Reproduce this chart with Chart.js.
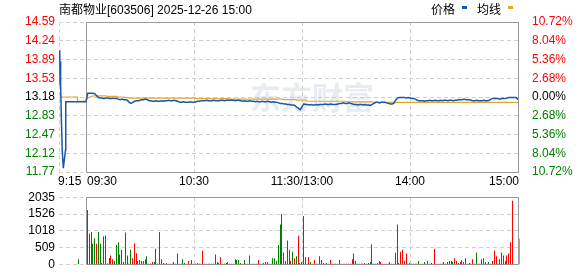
<!DOCTYPE html>
<html>
<head>
<meta charset="utf-8">
<script src="https://cdn.jsdelivr.net/npm/chart.js@4.4.1/dist/chart.umd.min.js"></script>
<style>
    html, body { margin: 0; padding: 0; background: #fff; }
    #wrap { position: relative; width: 578px; height: 276px; overflow: hidden;
        font-family: Arial, "Liberation Sans", sans-serif; font-size: 12px; color: #000; }
    canvas { position: absolute; left: 0; }
    #priceChart { top: 0; }
    #volChart { top: 186px; }
    .cjk { font-family: "Noto Sans CJK SC", sans-serif; }
    .title { position: absolute; left: 59px; top: 2px; line-height: 14px; white-space: nowrap; }
    .lg { position: absolute; top: 2px; line-height: 14px; white-space: nowrap; }
    .mark { position: absolute; top: 6px; width: 5px; height: 3px; }
</style>
</head>
<body>
<div id="wrap">
    <canvas id="priceChart" width="578" height="190"></canvas>
    <canvas id="volChart" width="578" height="90"></canvas>
    <div class="title"><span class="cjk">南都物业</span>[603506] 2025-12-26 15:00</div>
    <div class="lg cjk" style="left:431px">价格</div>
    <div class="mark" style="left:462px;background:#1b57a6"></div>
    <div class="lg cjk" style="left:477px">均线</div>
    <div class="mark" style="left:508px;background:#e3a631"></div>
</div>
<script>
// previous close, and the axis labels as they appear on the picture
const prevClose = 13.18;
const priceTicks = [11.77, 12.12, 12.47, 12.83, 13.18, 13.53, 13.89, 14.24, 14.59];
const pctTicks = ['10.72%', '8.04%', '5.36%', '2.68%', '0.00%', '2.68%', '5.36%', '8.04%', '10.72%'];
const volTicks = [0, 509, 1018, 1526, 2035];
// minutes from 09:30 (lunch break removed), 9:15 auction sits at -15
const timeTicks = [-15, 0, 60, 120, 180, 240];
const timeLabels = ['9:15', '09:30', '10:30', '11:30/13:00', '14:00', '15:00'];

// call auction 9:15-9:25 (fractional minutes)
const preTimes = [-14.6, -14.4, -14.2, -14.0, -13.7, -13.2, -12.6, -11.4, -11.25, 0];
const prePrice = [14.06, 13.41, 13.85, 13.40, 12.80, 12.18, 11.84, 12.18, 13.09, 13.09];
const preAvgTimes = [-14.6, -4.8, -4.7, 0];
const preAvg = [13.18, 13.18, 13.10, 13.10];
const preVolTimes = [-5];
const preVol = [170];

// one value per minute, 09:30 .. 15:00 (241 points)
const price = [
    13.10, 13.25, 13.25, 13.25, 13.25, 13.24, 13.20, 13.17, 13.16, 13.16,
    13.15, 13.16, 13.16, 13.15, 13.15, 13.16, 13.15, 13.15, 13.14, 13.13,
    13.14, 13.13, 13.13, 13.12, 13.08, 13.06, 13.08, 13.10, 13.11, 13.11,
    13.12, 13.13, 13.13, 13.14, 13.13, 13.11, 13.11, 13.10, 13.10, 13.11,
    13.10, 13.10, 13.11, 13.10, 13.11, 13.11, 13.12, 13.11, 13.11, 13.12,
    13.11, 13.10, 13.08, 13.08, 13.09, 13.08, 13.08, 13.08, 13.09, 13.08,
    13.08, 13.09, 13.10, 13.10, 13.11, 13.11, 13.11, 13.12, 13.11, 13.11,
    13.11, 13.12, 13.11, 13.11, 13.11, 13.12, 13.12, 13.11, 13.12, 13.12,
    13.12, 13.12, 13.12, 13.11, 13.12, 13.12, 13.11, 13.10, 13.11, 13.10,
    13.10, 13.11, 13.10, 13.10, 13.09, 13.10, 13.09, 13.09, 13.10, 13.09,
    13.09, 13.10, 13.09, 13.08, 13.09, 13.08, 13.08, 13.07, 13.06, 13.06,
    13.05, 13.05, 13.04, 13.04, 13.03, 13.03, 13.02, 12.99, 12.97, 12.94,
    13.00, 13.05, 13.04, 13.04, 13.03, 13.04, 13.03, 13.03, 13.04, 13.03,
    13.04, 13.04, 13.04, 13.05, 13.04, 13.04, 13.05, 13.04, 13.04, 13.04,
    13.05, 13.06, 13.06, 13.07, 13.06, 13.06, 13.07, 13.06, 13.05, 13.04,
    13.04, 13.03, 13.04, 13.04, 13.03, 13.04, 13.03, 13.03, 13.02, 13.04,
    13.06, 13.08, 13.08, 13.07, 13.08, 13.08, 13.08, 13.07, 13.06, 13.05,
    13.05, 13.06, 13.12, 13.16, 13.17, 13.17, 13.17, 13.17, 13.16, 13.17,
    13.16, 13.15, 13.15, 13.14, 13.12, 13.11, 13.11, 13.11, 13.10, 13.11,
    13.11, 13.12, 13.11, 13.11, 13.12, 13.11, 13.11, 13.12, 13.11, 13.12,
    13.12, 13.11, 13.12, 13.12, 13.11, 13.12, 13.12, 13.13, 13.13, 13.13,
    13.14, 13.13, 13.13, 13.13, 13.12, 13.11, 13.11, 13.12, 13.11, 13.11,
    13.11, 13.12, 13.11, 13.11, 13.12, 13.14, 13.15, 13.15, 13.15, 13.15,
    13.14, 13.15, 13.15, 13.15, 13.16, 13.17, 13.17, 13.17, 13.17, 13.17,
    13.13
];
const avgPrice = [
    13.12, 13.16, 13.18, 13.19, 13.20, 13.20, 13.20, 13.20, 13.20, 13.20,
    13.20, 13.20, 13.19, 13.19, 13.19, 13.19, 13.19, 13.19, 13.18, 13.18,
    13.18, 13.18, 13.17, 13.17, 13.16, 13.16, 13.16, 13.16, 13.16, 13.16,
    13.16, 13.16, 13.16, 13.16, 13.16, 13.16, 13.16, 13.16, 13.16, 13.16,
    13.16, 13.16, 13.16, 13.16, 13.16, 13.16, 13.16, 13.16, 13.16, 13.16,
    13.16, 13.16, 13.16, 13.16, 13.16, 13.16, 13.16, 13.16, 13.16, 13.16,
    13.16, 13.15, 13.15, 13.15, 13.15, 13.15, 13.15, 13.15, 13.15, 13.15,
    13.15, 13.15, 13.15, 13.15, 13.15, 13.15, 13.15, 13.15, 13.15, 13.15,
    13.14, 13.14, 13.14, 13.14, 13.14, 13.14, 13.14, 13.14, 13.14, 13.14,
    13.14, 13.14, 13.14, 13.14, 13.14, 13.14, 13.14, 13.14, 13.14, 13.14,
    13.14, 13.14, 13.14, 13.14, 13.14, 13.14, 13.14, 13.14, 13.14, 13.14,
    13.13, 13.13, 13.13, 13.13, 13.13, 13.13, 13.13, 13.12, 13.12, 13.12,
    13.12, 13.12, 13.12, 13.10, 13.10, 13.10, 13.10, 13.10, 13.10, 13.10,
    13.10, 13.10, 13.10, 13.10, 13.10, 13.10, 13.10, 13.10, 13.10, 13.10,
    13.10, 13.10, 13.10, 13.10, 13.10, 13.09, 13.09, 13.09, 13.09, 13.09,
    13.09, 13.09, 13.09, 13.09, 13.09, 13.09, 13.09, 13.09, 13.09, 13.09,
    13.08, 13.08, 13.08, 13.08, 13.08, 13.08, 13.08, 13.08, 13.08, 13.08,
    13.08, 13.08, 13.08, 13.08, 13.08, 13.08, 13.08, 13.08, 13.08, 13.08,
    13.08, 13.08, 13.08, 13.08, 13.08, 13.08, 13.08, 13.08, 13.08, 13.08,
    13.08, 13.08, 13.08, 13.08, 13.08, 13.08, 13.08, 13.08, 13.08, 13.08,
    13.08, 13.08, 13.08, 13.08, 13.08, 13.08, 13.08, 13.08, 13.08, 13.08,
    13.08, 13.08, 13.08, 13.08, 13.08, 13.08, 13.08, 13.08, 13.08, 13.08,
    13.08, 13.08, 13.08, 13.08, 13.08, 13.08, 13.08, 13.08, 13.08, 13.08,
    13.08, 13.08, 13.08, 13.08, 13.08, 13.08, 13.08, 13.08, 13.08, 13.08,
    13.08
];
// volume per minute (lots), r = up tick, g = down tick
const volume = [
    1650, 942, 989, 631, 800, 631, 989, 631, 57, 857,
    885, 47, 207, 283, 170, 113, 593, 678, 311, 452,
    85, 970, 283, 28, 452, 198, 650, 349, 113, 141,
    113, 113, 170, 254, 28, 38, 85, 85, 480, 38,
    989, 170, 57, 28, 57, 28, 28, 28, 85, 28,
    339, 28, 28, 170, 57, 28, 113, 28, 141, 28,
    28, 57, 28, 28, 424, 28, 28, 28, 28, 28,
    28, 311, 85, 57, 226, 28, 28, 57, 85, 28,
    28, 28, 170, 141, 141, 57, 28, 141, 28, 28,
    283, 28, 28, 28, 28, 141, 28, 28, 57, 85,
    85, 28, 28, 198, 198, 113, 593, 1215, 1526, 367,
    113, 735, 452, 113, 396, 198, 254, 876, 57, 85,
    1470, 226, 28, 226, 85, 28, 141, 28, 28, 254,
    141, 57, 28, 57, 28, 141, 28, 28, 28, 28,
    141, 28, 28, 28, 28, 28, 28, 170, 339, 113,
    28, 28, 28, 28, 57, 28, 57, 85, 622, 28,
    28, 57, 113, 85, 28, 28, 28, 28, 85, 28,
    28, 367, 1215, 57, 396, 452, 113, 339, 28, 57,
    28, 28, 28, 28, 113, 28, 28, 85, 28, 113,
    28, 57, 28, 480, 28, 28, 28, 28, 85, 28,
    85, 113, 113, 85, 198, 113, 57, 85, 141, 85,
    198, 28, 57, 28, 170, 28, 367, 28, 28, 170,
    198, 85, 28, 85, 28, 113, 424, 254, 28, 170,
    367, 283, 113, 283, 339, 678, 1931, 0, 0, 0,
    791
];
const volSide = (
    'rrrggrggrr' + 'gggrrgggrg' + 'ggrggrrrrr' + 'rrrggrrgrr' + 'grrrrgrrgg' +
    'ggrgrrrrgg' + 'rrrrrgrrrg' + 'grrrrrgggr' + 'rrrggrrgrg' + 'rrggrrrgrg' +
    'grrggggggr' + 'rggrgrgrrr' + 'rgrrgrrgrr' + 'rgrrgrrrgr' + 'rrrrrrrrrg' +
    'rggrrrrgrr' + 'rggrrrrrrg' + 'grrrrrrrgg' + 'rrgrgrrgrr' + 'rrgrrrrggr' +
    'ggrgrrrrgr' + 'grrrrrgrrr' + 'rrrgrrrrrg' + 'rgrrrrrrrr' + 'g'
).split('');

const BLUE = '#1b57a6';
const GOLD = '#e3a631';
const RED = '#ff0000';
const GREEN = '#008000';
const GRID = '#d0d0d0';
const FONT = 'Arial, "Liberation Sans", sans-serif';

Chart.defaults.font.family = FONT;
Chart.defaults.font.size = 12;
Chart.defaults.color = '#000';

function sideColor(v) {
    if (Math.abs(v - prevClose) < 0.001) return '#000';
    return v > prevClose ? RED : GREEN;
}

// solid frame around the continuous trading session
const framePlugin = {
    id: 'frame',
    beforeDatasetsDraw(chart) {
        const { ctx, chartArea, scales: { x } } = chart;
        const l = Math.floor(x.getPixelForValue(0)) + 0.5;
        const r = Math.floor(x.getPixelForValue(240)) + 0.5;
        const t = Math.floor(chartArea.top) + 0.5;
        const b = Math.floor(chartArea.bottom) + 0.5;
        ctx.save();
        ctx.strokeStyle = '#999';
        ctx.lineWidth = 1;
        ctx.strokeRect(l, t, r - l, b - t);
        ctx.restore();
    }
};

// 1px bars sit on whole pixels, just right of their minute
const crispBars = {
    id: 'crispBars',
    beforeDatasetsDraw(chart) {
        chart.ctx.save();
        chart.ctx.translate(1.5, 0);
    },
    afterDatasetsDraw(chart) {
        chart.ctx.restore();
    }
};

const watermarkPlugin = {
    id: 'watermark',
    beforeDatasetsDraw(chart) {
        const { ctx, chartArea } = chart;
        ctx.save();
        ctx.fillStyle = 'rgba(170, 185, 210, 0.28)';
        ctx.font = 'bold 31px "Noto Sans CJK SC", sans-serif';
        ctx.textAlign = 'center';
        ctx.textBaseline = 'middle';
        ctx.fillText('东方财富', 312, (chartArea.top + chartArea.bottom) / 2);
        ctx.restore();
    }
};

const labelAlign = ['left', 'left', 'center', 'center', 'center', 'right'];
const labelNudge = [-1, 1, 0, 0, 0, 1];
const timeLabelPlugin = {
    id: 'timeLabels',
    afterDraw(chart) {
        const { ctx, scales: { x } } = chart;
        ctx.save();
        ctx.font = '12px ' + FONT;
        ctx.fillStyle = '#000';
        ctx.textBaseline = 'middle';
        timeTicks.forEach((m, i) => {
            ctx.textAlign = labelAlign[i];
            ctx.fillText(timeLabels[i], x.getPixelForValue(m) + labelNudge[i], 182);
        });
        ctx.restore();
    }
};

const pricePoints = preTimes.map((t, i) => ({ x: t, y: prePrice[i] }))
    .concat(price.map((p, i) => ({ x: i, y: p })));
const avgPoints = preAvgTimes.map((t, i) => ({ x: t, y: preAvg[i] }))
    .concat(avgPrice.map((p, i) => ({ x: i, y: p })));

new Chart(document.getElementById('priceChart'), {
    type: 'line',
    data: {
        datasets: [
            { label: '价格', data: pricePoints, borderColor: BLUE, borderWidth: 1.5, pointRadius: 0, tension: 0 },
            { label: '均线', data: avgPoints, borderColor: GOLD, borderWidth: 1.2, pointRadius: 0, tension: 0 }
        ]
    },
    options: {
        responsive: false,
        animation: false,
        devicePixelRatio: 1,
        events: [],
        layout: { padding: { top: 22, left: 0, right: 0, bottom: 0 } },
        plugins: { legend: { display: false }, tooltip: { enabled: false } },
        scales: {
            x: {
                type: 'linear', min: -15, max: 240,
                afterBuildTicks: (s) => { s.ticks = timeTicks.map(v => ({ value: v })); },
                afterFit: (s) => { s.height = 18; },
                ticks: { display: false },
                grid: { color: GRID, drawTicks: false },
                border: { display: false, dash: [4, 3] }
            },
            y: {
                position: 'left', min: priceTicks[0], max: priceTicks[priceTicks.length - 1],
                afterBuildTicks: (s) => { s.ticks = priceTicks.map(v => ({ value: v })); },
                afterFit: (s) => { s.width = 59; },
                ticks: { padding: 4, color: (c) => sideColor(c.tick.value), callback: (v) => v.toFixed(2) },
                grid: { color: GRID, drawTicks: false },
                border: { display: false, dash: [4, 3] }
            },
            y2: {
                position: 'right', min: priceTicks[0], max: priceTicks[priceTicks.length - 1],
                afterBuildTicks: (s) => { s.ticks = priceTicks.map(v => ({ value: v })); },
                afterFit: (s) => { s.width = 60; },
                ticks: { padding: 6, color: (c) => sideColor(c.tick.value), callback: (v, i) => pctTicks[i] },
                grid: { display: false },
                border: { display: false }
            }
        }
    },
    plugins: [watermarkPlugin, framePlugin, timeLabelPlugin]
});

const volPoints = preVolTimes.map((t, i) => ({ x: t, y: preVol[i] }))
    .concat(volume.map((v, i) => ({ x: i, y: v })));
const volColors = preVol.map(() => GREEN)
    .concat(volSide.map(s => (s === 'r' ? RED : GREEN)));

new Chart(document.getElementById('volChart'), {
    type: 'bar',
    data: {
        datasets: [{
            label: '成交量', data: volPoints, backgroundColor: volColors,
            barThickness: 1, borderWidth: 0, inflateAmount: 0, grouped: false
        }]
    },
    options: {
        responsive: false,
        animation: false,
        devicePixelRatio: 1,
        events: [],
        layout: { padding: { top: 10, left: 0, right: 60, bottom: 6 } },
        plugins: { legend: { display: false }, tooltip: { enabled: false } },
        scales: {
            x: {
                type: 'linear', min: -15, max: 240, offset: false, alignToPixels: true,
                afterBuildTicks: (s) => { s.ticks = timeTicks.slice(1).map(v => ({ value: v })); },
                afterFit: (s) => { s.height = 0; },
                ticks: { display: false },
                grid: { color: GRID, drawTicks: false, offset: false },
                border: { display: false, dash: [4, 3] }
            },
            y: {
                position: 'left', min: 0, max: volTicks[volTicks.length - 1],
                afterBuildTicks: (s) => { s.ticks = volTicks.map(v => ({ value: v })); },
                afterFit: (s) => { s.width = 59; },
                ticks: { padding: 4, color: '#000', callback: (v) => String(v) },
                grid: { color: GRID, drawTicks: false },
                border: { display: false, dash: [4, 3] }
            }
        }
    },
    plugins: [framePlugin, crispBars]
});
</script>
</body>
</html>
